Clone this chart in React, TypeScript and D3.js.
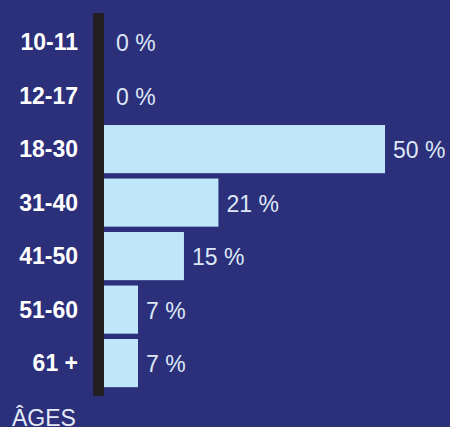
import React from "react";
import * as d3 from "d3";

const categories = ["10-11", "12-17", "18-30", "31-40", "41-50", "51-60", "61 +"];
const values = [0, 0, 50, 21, 15, 7, 7];
const valueLabels = ["0 %", "0 %", "50 %", "21 %", "15 %", "7 %", "7 %"];
const axisTitle = "ÂGES";

const W = 450;
const H = 427;

export default function App() {
  const x = d3.scaleLinear().domain([1.08, 50]).range([104, 385]);
  const x0 = x(0);
  const y = d3
    .scaleBand<string>()
    .domain(categories)
    .range([15.35, 389.85])
    .paddingInner(0.1)
    .paddingOuter(0.05);
  const font = "'Liberation Sans', Arial, sans-serif";
  return (
    <svg
      width={W}
      height={H}
      style={{ position: "absolute", left: 0, top: 0, display: "block" }}
    >
      <rect x={0} y={0} width={W} height={H} fill="#2c2f7a" />
      {categories.map((c, i) => {
        const yy = y(c)!;
        const bw = y.bandwidth();
        const cy = yy + bw / 2;
        const v = values[i];
        return (
          <g key={c}>
            {v > 0 && (
              <rect x={x0} y={yy} width={x(v) - x0} height={bw} fill="#bfe7f9" />
            )}
            <text
              x={78}
              y={cy + 8}
              textAnchor="end"
              fill="#ffffff"
              fontFamily={font}
              fontWeight="bold"
              fontSize={23}
            >
              {c}
            </text>
            <text
              x={Math.max(x(v) + 8, 116)}
              y={cy + 9}
              fill="#dde8f6"
              fontFamily={font}
              fontSize={23}
            >
              {valueLabels[i]}
            </text>
          </g>
        );
      })}
      <rect x={93} y={13} width={11} height={383} fill="#231f20" />
      <text x={12} y={425.5} fill="#e4ebf7" fontFamily={font} fontSize={23}>
        {axisTitle}
      </text>
    </svg>
  );
}
